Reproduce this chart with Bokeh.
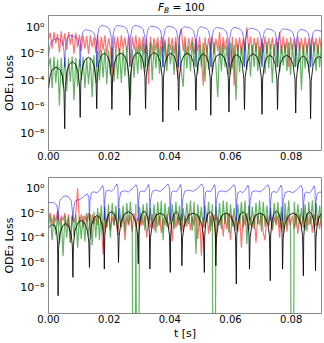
import numpy as np
from bokeh.plotting import figure
from bokeh.models import Range1d, FixedTicker, PrintfTickFormatter, Div
from bokeh.layouts import column
from bokeh.embed import file_html
from bokeh.resources import INLINE

# ---------------- data (losses stored as log10 values) ----------------
T_END = 0.09
TITLE_MAIN, TITLE_SUB, TITLE_VALUE = "F", "B", "= 100"
X_TICKS = [0.0, 0.02, 0.04, 0.06, 0.08]
Y_TICKS = [1e-8, 1e-6, 1e-4, 1e-2, 1.0]
Y_TICK_LABELS = ["10⁻⁸", "10⁻⁶", "10⁻⁴", "10⁻²", "10⁰"]

# panel 1 : smooth curves (blue / black) share the time points
top_t = [
    0, 0.0005, 0.0012, 0.0025, 0.0038, 0.0046, 0.0051, 0.00535,
    0.00555, 0.00612, 0.00688, 0.0079, 0.00892, 0.00969, 0.01024, 0.01045,
    0.01067, 0.01127, 0.01209, 0.01318, 0.01427, 0.01508, 0.01568, 0.0159,
    0.0161, 0.01665, 0.0174, 0.0184, 0.0194, 0.02015, 0.0207, 0.0209,
    0.02114, 0.02179, 0.02267, 0.02385, 0.02503, 0.02592, 0.02656, 0.0268,
    0.02701, 0.02758, 0.02836, 0.0294, 0.03044, 0.03122, 0.03179, 0.0320,
    0.03223, 0.03286, 0.03371, 0.03485, 0.03599, 0.03685, 0.03747, 0.0377,
    0.03791, 0.03848, 0.03926, 0.0403, 0.04134, 0.04212, 0.04269, 0.0429,
    0.04313, 0.04376, 0.04461, 0.04575, 0.04689, 0.04775, 0.04837, 0.0486,
    0.0488, 0.04934, 0.05007, 0.05105, 0.05203, 0.05277, 0.0533, 0.0535,
    0.05374, 0.0544, 0.0553, 0.0565, 0.0577, 0.0586, 0.05926, 0.0595,
    0.0597, 0.06027, 0.06103, 0.06205, 0.06307, 0.06384, 0.06439, 0.0646,
    0.06483, 0.06547, 0.06634, 0.0675, 0.06866, 0.06953, 0.07017, 0.0704,
    0.0706, 0.07117, 0.07193, 0.07295, 0.07397, 0.07474, 0.07529, 0.0755,
    0.07574, 0.0764, 0.0773, 0.0785, 0.0797, 0.0806, 0.08126, 0.0815,
    0.0817, 0.08224, 0.08297, 0.08395, 0.08493, 0.08567, 0.0862, 0.0864,
    0.08662, 0.08721, 0.08802, 0.0891, 0.09]

top_black_log = [
    -4.6, -3.7, -3.2, -3.0, -3.2, -3.7, -4.8, -7.65,
    -4.4, -3.29, -2.78, -2.6, -2.78, -3.29, -4.4, -6.8,
    -4.05, -2.94, -2.43, -2.25, -2.43, -2.94, -4.05, -6.14,
    -3.75, -2.64, -2.13, -1.95, -2.13, -2.64, -3.75, -6.2,
    -3.75, -2.64, -2.13, -1.95, -2.13, -2.64, -3.75, -6.64,
    -3.7, -2.59, -2.08, -1.9, -2.08, -2.59, -3.7, -6.14,
    -3.7, -2.59, -2.08, -1.9, -2.08, -2.59, -3.7, -7.14,
    -3.75, -2.64, -2.13, -1.95, -2.13, -2.64, -3.75, -6.26,
    -3.75, -2.64, -2.13, -1.95, -2.13, -2.64, -3.75, -6.26,
    -3.8, -2.69, -2.18, -2.0, -2.18, -2.69, -3.8, -6.64,
    -3.8, -2.69, -2.18, -2.0, -2.18, -2.69, -3.8, -6.4,
    -3.85, -2.74, -2.23, -2.05, -2.23, -2.74, -3.85, -6.2,
    -3.8, -2.69, -2.18, -2.0, -2.18, -2.69, -3.8, -6.57,
    -3.9, -2.79, -2.28, -2.1, -2.28, -2.79, -3.9, -6.2,
    -3.9, -2.79, -2.28, -2.1, -2.28, -2.79, -3.9, -6.47,
    -3.95, -2.84, -2.33, -2.15, -2.33, -2.84, -3.95, -6.9,
    -4.0, -2.89, -2.38, -2.2, -2.3]

top_blue_log = [
    -2.2, -1.3, -1.0, -0.85, -0.9, -1.2, -1.8, -3.0,
    -1.5, -0.8, -0.6, -0.64, -0.72, -0.9, -1.5, -3.0,
    -1.07, -0.37, -0.17, -0.21, -0.29, -0.47, -1.07, -3.0,
    -0.75, -0.05, 0.15, 0.11, 0.03, -0.15, -0.75, -3.0,
    -0.75, -0.05, 0.15, 0.11, 0.03, -0.15, -0.75, -3.0,
    -0.75, -0.05, 0.15, 0.11, 0.03, -0.15, -0.75, -3.0,
    -0.8, -0.1, 0.1, 0.06, -0.02, -0.2, -0.8, -3.0,
    -0.8, -0.1, 0.1, 0.06, -0.02, -0.2, -0.8, -3.0,
    -0.85, -0.15, 0.05, 0.01, -0.07, -0.25, -0.85, -3.0,
    -0.85, -0.15, 0.05, 0.01, -0.07, -0.25, -0.85, -3.0,
    -0.9, -0.2, 0.0, -0.04, -0.12, -0.3, -0.9, -3.0,
    -0.9, -0.2, 0.0, -0.04, -0.12, -0.3, -0.9, -3.0,
    -0.95, -0.25, -0.05, -0.09, -0.17, -0.35, -0.95, -3.0,
    -1.0, -0.3, -0.1, -0.14, -0.22, -0.4, -1.0, -3.0,
    -1.0, -0.3, -0.1, -0.14, -0.22, -0.4, -1.0, -3.0,
    -1.05, -0.35, -0.15, -0.19, -0.27, -0.45, -1.05, -3.0,
    -1.1, -0.4, -0.2, -0.24, -0.3]

# panel 1 : noisy curves, evenly sampled over [0, T_END]
top_red_log = [
    -0.9, -0.4, -1.6, -0.35, -1.2, -0.5, -1.9, -0.3, -1.4, -0.45,
    -1.7, -0.35, -1.3, -0.5, -2.0, -0.4, -1.5, -0.55, -1.8, -0.6,
    -1.6, -0.65, -2.0, -0.6, -1.5, -0.75, -1.9, -0.55, -2.3, -0.7,
    -1.7, -0.6, -2.0, -0.8, -1.6, -3.75, -0.65, -1.8, -0.7, -2.1,
    -0.6, -1.6, -0.75, -1.9, -0.65, -2.9, -0.7, -1.7, -0.6, -2.0,
    -0.75, -1.8, -0.7, -2.0, -0.85, -4.3, -0.7, -1.9, -0.8, -1.7,
    -0.75, -2.2, -0.7, -1.8, -0.9, -2.6, -0.75, -1.7, -0.8, -2.0,
    -0.7, -3.9, -0.6, -0.1, -1.8, -0.7, -2.1, -0.8, -1.7, -0.75,
    -2.0, -0.85, -1.8, -0.7, -2.2, -4.4, -0.75, -1.9, -0.8, -1.7,
    -0.7, -2.0, -0.85, -1.8, -0.35, -2.1, -0.75, -1.7, -0.8, -2.3,
    -3.5, -0.7, -4.4, -0.8, -1.9, -0.75, -2.0, -0.85, -1.8, 0.0,
    -1.7, -0.7, -2.1, -0.8, -1.8, -0.75, -2.7, -0.85, -1.9, -0.7,
    -2.0, -0.8, -1.7, -0.75, -2.2, -0.85, -1.8, -0.35, -2.0, -0.7,
    -1.9, -0.8, -3.0, -0.75, -1.7, -0.85, -2.1, -0.7, -1.8, -0.8,
    -2.0, -0.75, -1.9, -0.85, -2.4, -0.7, -1.8, -0.8, -2.0, -0.75, -1.7]

top_green_log = [
    -3.0, -2.3, -4.6, -2.2, -4.2, -2.4, -5.9, -2.3, -4.4, -2.25,
    -4.8, -2.35, -4.1, -2.2, -5.5, -2.3, -4.5, -2.4, -4.0, -2.2,
    -4.6, -2.3, -4.3, -2.25, -5.26, -2.1, -4.2, -1.8, -4.0, -1.7,
    -3.8, -1.6, -4.3, -1.75, -3.6, -1.5, -4.1, -1.7, -3.9, -1.55,
    -4.2, -1.6, -3.7, -1.5, -4.0, -5.5, -1.65, -3.8, -1.45, -3.5,
    -1.3, -3.2, -1.2, -3.4, -1.35, -2.9, -1.15, -4.0, -1.3, -3.1,
    -1.2, -3.5, -1.4, -3.0, -1.1, -3.3, -1.25, -2.8, -1.35, -3.6,
    -1.15, -3.0, -1.3, -3.4, -4.5, -1.2, -3.1, -1.4, -3.3, -1.1,
    -2.9, -1.25, -3.5, -1.3, -3.0, -1.15, -4.1, -1.35, -3.2, -1.2,
    -3.4, -1.1, -2.9, -5.25, -1.3, -3.3, -1.2, -3.0, -1.4, -3.6,
    -1.15, -3.1, -1.3, -5.5, -1.2, -3.4, -1.35, -2.9, -1.1, -3.2,
    -1.25, -3.7, -1.3, -3.0, -1.15, -3.3, -1.4, -2.8, -1.2, -3.5,
    -1.1, -3.1, -1.3, -4.2, -1.25, -3.0, -1.15, -3.4, -1.35, -2.9,
    -1.2, -3.3, -1.1, -3.6, -1.3, -3.0, -1.25, -3.2, -1.15, -4.75,
    -1.3, -3.1, -1.2, -3.4, -1.35, -2.9, -1.1, -3.3, -1.25, -3.0, -1.2]

# panel 2 : smooth curves (blue / black) share the time points
bot_t = [
    0, 0.001, 0.002, 0.0027, 0.003, 0.00317,
    0.00332, 0.00376, 0.00464, 0.00562, 0.00659, 0.00747, 0.00786, 0.00806,
    0.00822, 0.00871, 0.0097, 0.01079, 0.01188, 0.01286, 0.01329, 0.01351,
    0.01366, 0.0141, 0.01498, 0.01596, 0.01694, 0.01782, 0.01821, 0.01841,
    0.01855, 0.01897, 0.01981, 0.02075, 0.02168, 0.02252, 0.02289, 0.02308,
    0.02328, 0.02386, 0.02504, 0.02634, 0.02764, 0.02882, 0.02934, 0.0296,
    0.02971, 0.03006, 0.03075, 0.03151, 0.03227, 0.03296, 0.03327, 0.03342,
    0.03362, 0.03423, 0.03544, 0.03679, 0.03813, 0.03934, 0.03988, 0.04015,
    0.04026, 0.04061, 0.0413, 0.04206, 0.04282, 0.04351, 0.04382, 0.04397,
    0.04419, 0.04486, 0.04619, 0.04768, 0.04916, 0.05049, 0.05108, 0.05138,
    0.05149, 0.05183, 0.05251, 0.05327, 0.05403, 0.05471, 0.05501, 0.05516,
    0.05536, 0.05597, 0.05719, 0.05854, 0.05989, 0.0611, 0.06165, 0.06192,
    0.06205, 0.06244, 0.06322, 0.06409, 0.06496, 0.06574, 0.06609, 0.06626,
    0.06647, 0.06708, 0.06832, 0.06969, 0.07106, 0.07229, 0.07284, 0.07311,
    0.07323, 0.0736, 0.07433, 0.07514, 0.07595, 0.07667, 0.077, 0.07716,
    0.07737, 0.07798, 0.07922, 0.08059, 0.08196, 0.0832, 0.08375, 0.08402,
    0.08414, 0.0845, 0.08522, 0.08603, 0.08683, 0.08755, 0.08787, 0.08803,
    0.08818, 0.08862, 0.0895, 0.09]

bot_black_log = [
    -3.2, -2.95, -3.0, -3.5, -4.5, -8.68,
    -4.85, -3.72, -3.03, -2.85, -3.03, -3.72, -4.65, -7.2,
    -4.6, -3.47, -2.78, -2.6, -2.78, -3.47, -4.4, -6.4,
    -4.2, -3.07, -2.38, -2.2, -2.38, -3.07, -4.0, -6.53,
    -3.9, -2.77, -2.08, -1.9, -2.08, -2.77, -3.7, -6.0,
    -3.9, -2.77, -2.08, -1.9, -2.08, -2.77, -3.7, -6.1,
    -3.85, -2.72, -2.03, -1.85, -2.03, -2.72, -3.65, -6.53,
    -4.0, -2.87, -2.18, -2.0, -2.18, -2.87, -3.8, -6.8,
    -3.9, -2.77, -2.08, -1.9, -2.08, -2.77, -3.7, -6.26,
    -4.0, -2.87, -2.18, -2.0, -2.18, -2.87, -3.8, -6.8,
    -3.9, -2.77, -2.08, -1.9, -2.08, -2.77, -3.7, -6.26,
    -4.0, -2.87, -2.18, -2.0, -2.18, -2.87, -3.8, -7.74,
    -3.9, -2.77, -2.08, -1.9, -2.08, -2.77, -3.7, -6.53,
    -4.0, -2.87, -2.18, -2.0, -2.18, -2.87, -3.8, -7.47,
    -3.85, -2.72, -2.03, -1.85, -2.03, -2.72, -3.65, -6.53,
    -4.0, -2.87, -2.18, -2.0, -2.18, -2.87, -3.8, -7.07,
    -3.9, -2.77, -2.08, -1.9, -2.08, -2.77, -3.7, -6.66,
    -4.0, -2.87, -2.18, -2.05]

bot_blue_log = [
    -1.15, -1.15, -1.2, -1.35, -1.8, -2.6,
    -1.8, -1.0, -0.7, -0.6, -0.7, -1.0, -1.8, -2.6,
    -1.75, -1.05, -0.95, -0.85, -0.6, -0.45, -0.75, -2.6,
    -1.08, -0.38, -0.28, -0.38, -0.13, 0.22, -0.08, -2.6,
    -0.95, -0.25, -0.15, -0.25, 0.0, 0.35, 0.05, -2.6,
    -1.0, -0.3, -0.2, -0.3, -0.05, 0.3, 0.0, -2.6,
    -1.0, -0.3, -0.2, -0.3, -0.05, 0.3, 0.0, -2.6,
    -0.95, -0.25, -0.15, -0.25, 0.0, 0.35, 0.05, -2.6,
    -1.0, -0.3, -0.2, -0.3, -0.05, 0.3, 0.0, -2.6,
    -0.95, -0.25, -0.15, -0.25, 0.0, 0.35, 0.05, -2.6,
    -1.0, -0.3, -0.2, -0.3, -0.05, 0.3, 0.0, -2.6,
    -1.0, -0.3, -0.2, -0.3, -0.05, 0.3, 0.0, -2.6,
    -1.05, -0.35, -0.25, -0.35, -0.1, 0.25, -0.05, -2.6,
    -1.0, -0.3, -0.2, -0.3, -0.05, 0.3, 0.0, -2.6,
    -1.05, -0.35, -0.25, -0.35, -0.1, 0.25, -0.05, -2.6,
    -1.05, -0.35, -0.25, -0.35, -0.1, 0.25, -0.05, -2.6,
    -1.1, -0.4, -0.3, -0.4, -0.15, 0.2, -0.1, -2.6,
    -1.1, -0.4, -0.3, -0.35]

# panel 2 : noisy curves, evenly sampled over [0, T_END]  (-40 = loss of zero)
bot_red_log = [
    -2.4, -2.0, -2.9, -2.1, -2.7, -1.8, -3.0, -2.2, -2.6, -2.0,
    -3.1, -2.1, -4.4, -2.2, -2.8, -2.0, 0.0, -2.9, -2.1, -3.2,
    -2.2, -2.7, -2.0, -3.6, -2.1, -2.9, -2.3, -3.0, -2.0, -2.8,
    -5.3, -2.2, -3.1, -2.1, -3.4, -2.3, -3.0, -2.0, -3.8, -2.2,
    -3.2, -2.1, -4.2, -2.3, -3.0, -2.2, -3.5, -2.0, -3.1, -2.4,
    -3.3, -2.1, -3.0, -2.2, -4.0, -2.3, -3.2, -2.1, -3.4, -2.0,
    -3.1, -2.2, -3.6, -2.4, -3.0, -2.1, -3.3, -2.2, -4.3, -2.0,
    -3.2, -2.3, -3.0, -2.1, -3.5, -2.2, -3.1, -2.0, -3.4, -2.3,
    -3.0, -2.1, -4.1, -2.2, -5.45, -2.3, -3.2, -2.0, -3.7, -2.2,
    -3.1, -2.1, -4.6, -2.3, -3.0, -2.2, -3.9, -2.1, -3.3, -2.0,
    -4.2, -2.2, -3.1, -2.3, -3.5, -2.1, -4.8, -2.2, -3.0, -2.0,
    -3.4, -2.3, -3.2, -2.1, -4.4, -2.2, -3.0, -2.0, -3.6, -4.2,
    -2.2, -3.1, -2.1, -3.4, -2.3, -3.0, -2.2, -4.0, -2.0, -3.2,
    -2.1, -3.5, -2.3, -3.0, -2.2, -3.3, -2.0, -3.7, -2.1, -3.1,
    -2.2, -3.4, -2.0, -3.0, -2.3, -3.6, -2.1, -3.1, -2.2, -3.3, -2.1]

bot_green_log = [
    -3.0, -2.2, -4.2, -2.3, -3.8, -2.2, -4.5, -2.4, -5.5, -2.2,
    -4.0, -2.3, -4.4, -2.2, -3.9, -2.1, -4.8, -2.3, -4.1, -2.2,
    -4.3, -2.0, -3.9, -2.1, -4.6, -1.9, -4.0, -1.6, -4.2, -1.4,
    -3.6, -1.5, -3.2, -1.3, -4.0, -1.2, -3.0, -1.4, -3.4, -1.6,
    -3.1, -1.4, -3.5, -1.2, -2.9, -1.1, -3.3, -40, -1.3, -40,
    -1.5, -3.0, -1.3, -3.4, -1.2, -2.9, -1.6, -3.2, -1.3, -3.6,
    -1.1, -3.0, -1.0, -4.2, -1.2, -3.1, -1.5, -2.9, -1.3, -3.3,
    -1.1, -3.0, -1.4, -3.5, -1.6, -3.1, -1.2, -2.9, -1.0, -3.4,
    -1.1, -5.3, -1.3, -3.0, -1.5, -3.2, -1.4, -2.8, -1.1, -3.5,
    -1.3, -40, -1.5, -3.0, -1.2, -3.3, -1.0, -2.9, -1.1, -3.6,
    -1.3, -3.1, -1.6, -3.4, -1.3, -2.9, -1.1, -3.2, -1.0, -4.5,
    -1.4, -3.0, -1.5, -3.3, -1.2, -2.9, -1.0, -3.5, -1.1, -3.1,
    -1.4, -3.0, -1.6, -3.3, -1.2, -2.8, -1.1, -3.2, -1.5, -3.6,
    -1.2, -3.0, -1.0, -3.4, -40, -1.1, -3.1, -1.3, -2.9, -1.6,
    -3.2, -1.3, -3.5, -1.1, -2.9, -1.0, -3.3, -1.2, -3.0, -1.4, -3.1]

FONT = "DejaVu Sans"


def to_loss(log_vals):
    return 10.0 ** np.asarray(log_vals, dtype=float)


def even_t(vals):
    return np.linspace(0.0, T_END, len(vals))


def make_panel(height, b_top, b_bottom, y_lo, y_hi, ylabel, xlabel,
               red, green, smooth_t, blue, black):
    p = figure(width=324, height=height, output_backend="svg", toolbar_location=None,
               x_range=Range1d(0, T_END), y_range=Range1d(y_lo, y_hi),
               y_axis_type="log", min_border_left=45, min_border_right=3,
               min_border_top=b_top, min_border_bottom=b_bottom,
               background_fill_color="white", border_fill_color="white")
    p.xgrid.visible = False
    p.ygrid.visible = False
    p.outline_line_color = "#8a8a8a"
    p.outline_line_width = 1

    p.line(even_t(red), to_loss(red), line_color="red", line_alpha=0.55, line_width=1.2)
    p.line(even_t(green), to_loss(green), line_color="green", line_alpha=0.6, line_width=1.2)
    p.line(smooth_t, to_loss(blue), line_color="blue", line_alpha=0.5, line_width=1)
    p.line(smooth_t, to_loss(black), line_color="black", line_alpha=0.85, line_width=1)

    for ax in (p.xaxis[0], p.yaxis[0]):
        ax.axis_line_color = None
        ax.major_tick_line_color = None
        ax.minor_tick_line_color = None
        ax.major_tick_out = 0
        ax.major_tick_in = 0
        ax.minor_tick_out = 0
        ax.minor_tick_in = 0
        ax.major_label_text_font = FONT
        ax.major_label_text_color = "black"
        ax.axis_label_text_font = FONT
        ax.axis_label_text_font_size = "11px"
        ax.axis_label_text_font_style = "normal"
        ax.axis_label_text_color = "black"

    p.xaxis.ticker = FixedTicker(ticks=X_TICKS, minor_ticks=[])
    p.xaxis.formatter = PrintfTickFormatter(format="%.2f")
    p.xaxis.major_label_text_font_size = "10px"
    p.xaxis.major_label_standoff = 1
    if xlabel:
        p.xaxis.axis_label = xlabel
        p.xaxis.axis_label_standoff = 1

    p.yaxis.ticker = FixedTicker(ticks=Y_TICKS, minor_ticks=[])
    p.yaxis.major_label_overrides = dict(zip(Y_TICKS, Y_TICK_LABELS))
    p.yaxis.major_label_text_font_size = "11px"
    p.yaxis.major_label_standoff = 4
    p.yaxis.axis_label = ylabel
    p.yaxis.axis_label_standoff = 1
    return p


# title strip  F_B = 100  (HTML text, centred over the upper plot frame)
title_html = (
    '<div style="position:relative;width:324px;height:15px;overflow:visible;">'
    '<span style="position:absolute;left:158px;top:1px;white-space:nowrap;'
    "font-family:'DejaVu Sans';font-size:10.5px;line-height:12px;color:black;\">"
    '<i>' + TITLE_MAIN + '</i>'
    '<i style="font-size:7.5px;position:relative;top:2px;">' + TITLE_SUB + '</i>'
    '&nbsp;' + TITLE_VALUE + '</span></div>'
)
title_div = Div(text=title_html, width=324, height=15, margin=0)

p1 = make_panel(150, 0, 15, 10 ** -9.3, 10 ** 0.9, "ODE₁ Loss", None,
                top_red_log, top_green_log, top_t, top_blue_log, top_black_log)
p2 = make_panel(178, 12, 30, 10 ** -10.12, 10 ** 0.87, "ODE₂ Loss", "t [s]",
                bot_red_log, bot_green_log, bot_t, bot_blue_log, bot_black_log)

layout = column(title_div, p1, p2, spacing=0)
open("out.html", "w").write(file_html(layout, INLINE))
